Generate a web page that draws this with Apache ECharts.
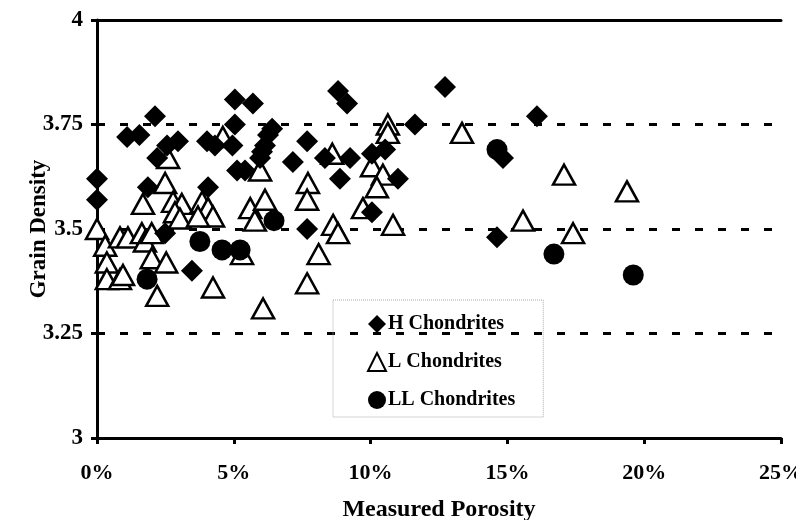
<!DOCTYPE html>
<html>
<head>
<meta charset="utf-8">
<script src="https://cdn.jsdelivr.net/npm/echarts@6/dist/echarts.min.js"></script>
<style>html,body{margin:0;padding:0;background:#fff}#c{width:796px;height:520px}</style>
</head>
<body>
<div id="c"></div>
<script>
// Measured porosity (%) and grain density pairs
const hChondrites = [
  [0, 3.62], [0, 3.57], [1.1, 3.72], [1.55, 3.725], [2.12, 3.77], [2.2, 3.67],
  [2.56, 3.70], [2.96, 3.71], [1.86, 3.60], [4.02, 3.71], [4.31, 3.70], [4.06, 3.60],
  [5.04, 3.81], [5.70, 3.80], [5.04, 3.75], [4.95, 3.70], [5.12, 3.64], [5.41, 3.64],
  [5.96, 3.67], [6.03, 3.685], [6.14, 3.70], [6.25, 3.725], [6.40, 3.74], [3.47, 3.40],
  [2.49, 3.49], [7.16, 3.66], [7.68, 3.71], [7.68, 3.50], [8.33, 3.67], [8.81, 3.83],
  [9.14, 3.80], [8.88, 3.62], [9.25, 3.67], [10.05, 3.68], [10.53, 3.69], [10.05, 3.54],
  [11.0, 3.62], [11.62, 3.75], [12.72, 3.84], [14.62, 3.48], [14.84, 3.67], [16.08, 3.77]
];
const lChondrites = [
  [0, 3.50], [0.3, 3.46], [0.36, 3.42], [0.36, 3.38], [0.84, 3.38], [0.95, 3.39],
  [0.84, 3.48], [1.13, 3.48], [1.64, 3.49], [1.75, 3.47], [2.0, 3.49], [2.0, 3.43],
  [2.53, 3.42], [2.2, 3.34], [1.68, 3.56], [2.49, 3.61], [2.6, 3.67], [2.78, 3.565],
  [3.1, 3.56], [2.85, 3.54], [3.03, 3.525], [3.84, 3.565], [4.06, 3.55], [4.24, 3.53],
  [3.69, 3.53], [4.6, 3.72], [5.6, 3.55], [6.14, 3.57], [5.77, 3.52], [5.3, 3.44],
  [4.24, 3.36], [6.07, 3.31], [5.96, 3.64], [7.71, 3.61], [7.68, 3.57], [8.1, 3.44],
  [7.68, 3.37], [8.6, 3.68], [8.63, 3.51], [8.81, 3.49], [10.63, 3.75], [10.63, 3.73],
  [10.05, 3.65], [10.45, 3.63], [10.23, 3.60], [9.72, 3.55], [10.82, 3.51], [13.34, 3.73],
  [15.57, 3.52], [17.07, 3.63], [17.4, 3.49], [19.37, 3.59]
];
const llChondrites = [
  [1.83, 3.38], [3.76, 3.47], [4.57, 3.45], [5.23, 3.45], [6.47, 3.52],
  [14.62, 3.69], [16.7, 3.44], [19.6, 3.39]
];
const seriesNames = ['H Chondrites', 'L Chondrites', 'LL Chondrites'];
const xTicks = [0, 5, 10, 15, 20, 25];
const yTicks = [3, 3.25, 3.5, 3.75, 4];

const font = 'Liberation Serif';
const chart = echarts.init(document.getElementById('c'), null, {renderer: 'canvas'});
chart.setOption({
  animation: false,
  backgroundColor: '#fff',
  grid: {left: 97, right: 15, top: 20, bottom: 82, containLabel: false, outerBoundsMode: 'none'},
  legend: {
    data: seriesNames,
    orient: 'vertical',
    left: 333, top: 300,
    padding: [14, 28, 7, 34],
    itemGap: 18,
    itemWidth: 18, itemHeight: 18,
    borderColor: '#aaa', borderWidth: 1, borderType: 'dotted',
    textStyle: {fontFamily: font, fontWeight: 'bold', fontSize: 20, color: '#000', padding: [0, 0, 0, -3]}
  },
  xAxis: [{
    type: 'value', min: xTicks[0], max: xTicks[xTicks.length - 1], interval: 5,
    name: 'Measured Porosity', nameLocation: 'middle', nameGap: 60, nameMoveOverlap: false,
    nameTextStyle: {fontFamily: font, fontWeight: 'bold', fontSize: 24, color: '#000'},
    axisLine: {lineStyle: {color: '#000', width: 3}},
    axisTick: {show: true, length: 6, lineStyle: {color: '#000', width: 3}},
    axisLabel: {formatter: '{value}%', margin: 24, fontFamily: font, fontWeight: 'bold', fontSize: 22, color: '#000'},
    splitLine: {show: false}
  }, {
    type: 'value', position: 'top', min: 0, max: 25,
    axisLine: {show: true, lineStyle: {color: '#000', width: 3}},
    axisTick: {show: false}, axisLabel: {show: false}, splitLine: {show: false}
  }],
  yAxis: {
    type: 'value', min: yTicks[0], max: yTicks[yTicks.length - 1], interval: 0.25,
    name: 'Grain Density', nameLocation: 'middle', nameGap: 46, nameMoveOverlap: false,
    nameTextStyle: {fontFamily: font, fontWeight: 'bold', fontSize: 23, color: '#000'},
    axisLine: {show: true, lineStyle: {color: '#000', width: 3}},
    axisTick: {show: true, length: 6, lineStyle: {color: '#000', width: 3}},
    axisLabel: {margin: 14, fontFamily: font, fontWeight: 'bold', fontSize: 23, color: '#000'},
    splitLine: {show: true, lineStyle: {color: '#000', width: 3, type: [8, 15]}}
  },
  series: [{
    name: seriesNames[1], type: 'scatter', data: lChondrites, z: 2,
    symbol: 'triangle', symbolSize: [22, 20],
    itemStyle: {color: '#fff', borderColor: '#000', borderWidth: 2.5, opacity: 1}
  }, {
    name: seriesNames[2], type: 'scatter', data: llChondrites, z: 3,
    symbol: 'circle', symbolSize: 21,
    itemStyle: {color: '#000', opacity: 1}
  }, {
    name: seriesNames[0], type: 'scatter', data: hChondrites, z: 4,
    symbol: 'diamond', symbolSize: 22,
    itemStyle: {color: '#000', opacity: 1}
  }]
});
</script>
</body>
</html>
